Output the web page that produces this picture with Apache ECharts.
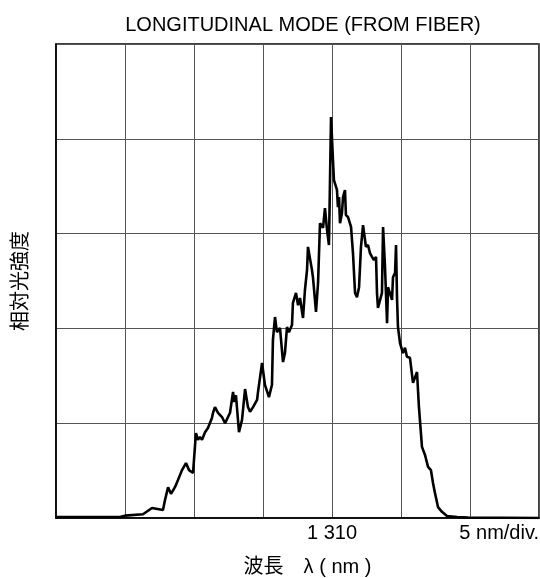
<!DOCTYPE html>
<html><head><meta charset="utf-8">
<script src="https://cdn.jsdelivr.net/npm/echarts@6/dist/echarts.min.js"></script>
<style>html,body{margin:0;padding:0;background:#fff}#c{width:540px;height:578px}</style>
</head><body><div id="c"></div>
<script>
// wavelength (nm)
const wavelength = [1290.00,1294.64,1295.00,1296.30,1296.96,1297.75,1297.90,1298.12,1298.33,1298.62,1298.84,1299.13,1299.42,1299.64,1299.93,1300.14,1300.29,1300.43,1300.58,1300.80,1301.01,1301.30,1301.38,1301.52,1301.74,1302.03,1302.25,1302.61,1302.83,1302.90,1303.04,1303.26,1303.48,1303.70,1303.91,1304.06,1304.28,1304.57,1304.64,1304.93,1305.14,1305.43,1305.65,1305.72,1305.87,1306.01,1306.23,1306.45,1306.59,1306.74,1306.88,1307.10,1307.17,1307.39,1307.54,1307.68,1307.90,1308.04,1308.19,1308.26,1308.55,1308.62,1308.84,1308.99,1309.13,1309.35,1309.49,1309.64,1309.78,1309.93,1310.07,1310.14,1310.36,1310.43,1310.51,1310.58,1310.72,1310.80,1310.94,1311.01,1311.16,1311.38,1311.52,1311.67,1311.81,1311.96,1312.10,1312.25,1312.46,1312.61,1312.75,1312.90,1313.04,1313.19,1313.26,1313.33,1313.62,1313.70,1313.84,1313.99,1314.06,1314.20,1314.35,1314.42,1314.57,1314.64,1314.71,1314.78,1314.93,1315.14,1315.29,1315.43,1315.65,1315.87,1316.16,1316.30,1316.52,1316.74,1316.96,1317.17,1317.32,1317.46,1317.68,1317.97,1318.33,1319.06,1319.86,1325.00];
// relative optical intensity (full scale = 1)
const intensity = [0.002,0.002,0.005,0.008,0.021,0.017,0.038,0.065,0.051,0.065,0.080,0.101,0.116,0.101,0.095,0.179,0.165,0.171,0.165,0.181,0.190,0.211,0.222,0.234,0.222,0.213,0.200,0.222,0.266,0.245,0.259,0.181,0.207,0.272,0.234,0.224,0.234,0.249,0.266,0.327,0.281,0.255,0.281,0.376,0.424,0.392,0.401,0.329,0.348,0.403,0.392,0.407,0.454,0.475,0.449,0.464,0.422,0.481,0.523,0.572,0.523,0.508,0.435,0.496,0.622,0.612,0.654,0.608,0.576,0.846,0.755,0.713,0.692,0.656,0.677,0.622,0.643,0.677,0.692,0.639,0.635,0.614,0.559,0.475,0.466,0.487,0.572,0.618,0.572,0.576,0.559,0.551,0.544,0.551,0.475,0.443,0.475,0.614,0.530,0.411,0.487,0.485,0.460,0.508,0.517,0.576,0.466,0.403,0.369,0.348,0.359,0.340,0.338,0.285,0.308,0.234,0.150,0.133,0.108,0.101,0.074,0.053,0.023,0.013,0.004,0.002,0.001,0.000];
const xTickLabels = {1310: '1 310', 1325: '5 nm/div.'};

const chart = echarts.init(document.getElementById('c'), null, {renderer: 'canvas'});
const font = 'Liberation Sans, Arial, "Noto Sans CJK JP", sans-serif';
chart.setOption({
  animation: false,
  backgroundColor: '#fff',
  title: {
    text: 'LONGITUDINAL MODE (FROM FIBER)',
    left: 298, textAlign: 'center', top: 10,
    textStyle: {fontFamily: font, fontSize: 20, fontWeight: 'normal', color: '#000'}
  },
  grid: {left: 56, right: 1, top: 44, bottom: 60, containLabel: false, outerBoundsMode: 'none',
         show: true, borderColor: '#000', borderWidth: 1.5, backgroundColor: 'transparent'},
  xAxis: {
    type: 'value', min: 1290, max: 1325, interval: 5,
    name: '波長　λ ( nm )', nameLocation: 'middle', nameGap: 39,
    nameTextStyle: {fontFamily: font, fontSize: 20, color: '#000', padding: [0, 0, 0, 20]},
    axisLine: {show: true, onZero: false, lineStyle: {color: '#000', width: 1.5}},
    axisTick: {show: false},
    splitLine: {show: true, lineStyle: {color: '#555', width: 1}},
    axisLabel: {
      fontFamily: font, fontSize: 20, color: '#000', margin: 5,
      showMinLabel: true, showMaxLabel: true, alignMaxLabel: 'right',
      formatter: v => xTickLabels[v] || ''
    }
  },
  yAxis: {
    type: 'value', min: 0, max: 1, interval: 0.2,
    name: '相対光強度', nameLocation: 'middle', nameGap: 25, nameRotate: 90,
    nameTextStyle: {fontFamily: font, fontSize: 20, color: '#000'},
    axisLine: {show: true, lineStyle: {color: '#000', width: 1.5}},
    axisTick: {show: false},
    axisLabel: {show: false},
    splitLine: {show: true, lineStyle: {color: '#555', width: 1}}
  },
  series: [{
    type: 'line',
    data: wavelength.map((w, i) => [w, intensity[i]]),
    showSymbol: false, symbol: 'none', smooth: false,
    lineStyle: {color: '#000', width: 2.6},
    z: 5
  }]
});
</script></body></html>
